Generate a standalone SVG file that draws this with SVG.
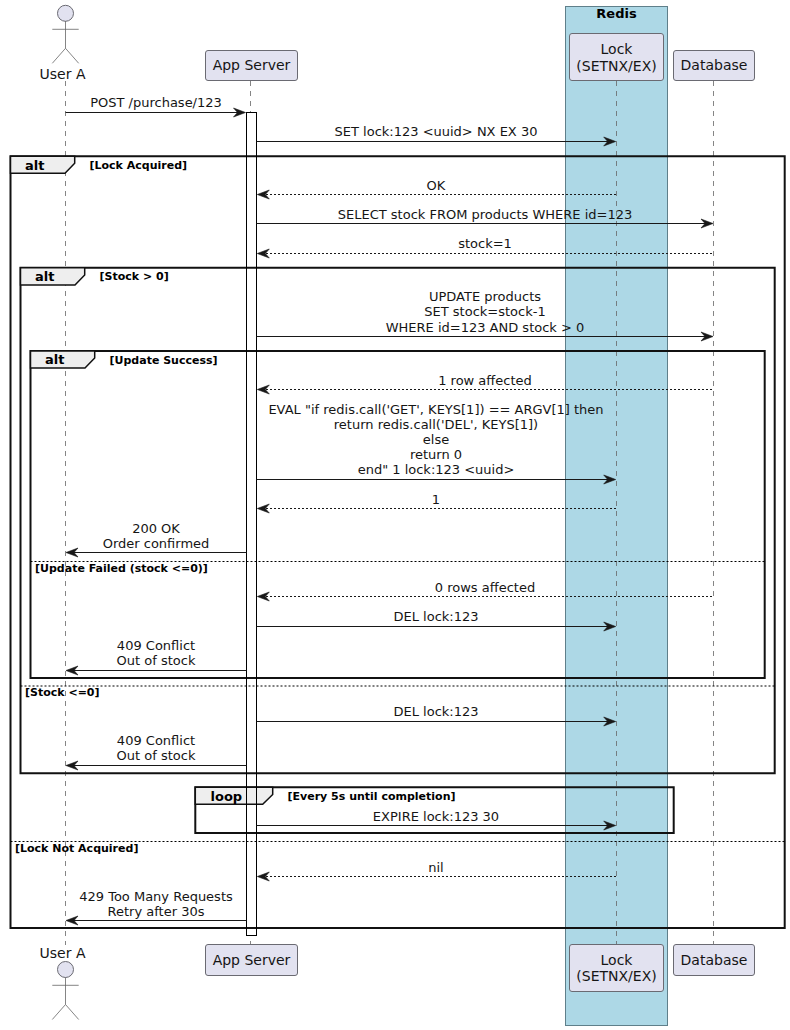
<svg xmlns="http://www.w3.org/2000/svg" width="790" height="1030" viewBox="0 0 790 1030">
<style>
text{font-family:"DejaVu Sans",sans-serif;fill:#151515}
.m{font-size:13px;text-anchor:middle}
.n{font-size:14px;text-anchor:middle}
.g{font-size:11px;font-weight:bold;fill:#000}
.t{font-size:13px;font-weight:bold;fill:#000}
.p{fill:#E2E2F0;stroke:#6a6a72;stroke-width:1}
.l{stroke:#666;stroke-width:.8;stroke-dasharray:5 5;fill:none}
.s{stroke:#181818;stroke-width:1;fill:none}
.d{stroke:#181818;stroke-width:1;stroke-dasharray:2 2;fill:none}
.f{fill:none;stroke:#111;stroke-width:2}
.tb{fill:#EEE;stroke:#111;stroke-width:1.5}
.e{stroke:#000;stroke-width:1;stroke-dasharray:2 2;fill:none}
.h{fill:#181818;stroke:#181818;stroke-width:.6}
.a{fill:none;stroke:#666;stroke-width:.8}
</style>
<defs>
<path id="ar" class="h" d="M0,0l-12,-4.500l4,4.500l-4,4.500z"/>
<path id="al" class="h" d="M0,0l12,-4.500l-4,4.500l4,4.500z"/>
</defs>
<g id="redis"><rect x="565.500" y="6.500" width="102" height="1019" fill="#ADD8E6" stroke="#5f7f8a" stroke-width="1"/><text x="616.500" y="18" text-anchor="middle" style="font-size:13px;font-weight:bold;fill:#000">Redis</text></g>
<g id="lifelines">
<path class="l" d="M65.500,81V945"/><path class="l" d="M250.500,81V945"/><path class="l" d="M616.500,81V945"/><path class="l" d="M713.500,81V945"/>
</g>
<g id="activation-fill"><rect x="246.500" y="112.500" width="10" height="823" fill="#fff"/></g>
<g id="frames">
<path class="f" d="M10.500,156.300H784.700V928H10.500Z"/><path class="tb" d="M10.500,156.300H74.700V163.300L65,173.300H10.500Z"/>
<text class="t" x="25" y="170">alt</text><text class="g" x="89.500" y="169.300">[Lock Acquired]</text>
<path class="f" d="M20.500,267.800H774.700V773.300H20.500Z"/><path class="tb" d="M20.500,267.800H84.700V275L75,285H20.500Z"/>
<text class="t" x="35" y="281">alt</text><text class="g" x="99.500" y="280.300">[Stock &gt; 0]</text>
<path class="f" d="M30.500,351H764.700V678H30.500Z"/><path class="tb" d="M30.500,351H94.700V358L85,368H30.500Z"/>
<text class="t" x="45" y="364">alt</text><text class="g" x="109.500" y="363.700">[Update Success]</text>
<path class="e" d="M30.500,561.500H764.700"/><text class="g" x="35" y="572">[Update Failed (stock &lt;=0)]</text>
<path class="e" d="M20.500,686H774.700"/><text class="g" x="25" y="696">[Stock &lt;=0]</text>
<path class="f" d="M195.300,787.300H673.700V833H195.300Z"/><path class="tb" d="M195.300,787.300H272.700V794.500L262.700,804.300H195.300Z"/>
<text class="t" x="210.500" y="801">loop</text><text class="g" x="287.500" y="800">[Every 5s until completion]</text>
<path class="e" d="M10.500,841.500H784.700"/><text class="g" x="15" y="852">[Lock Not Acquired]</text>
</g>
<g id="activation"><rect x="246.500" y="112.500" width="10" height="823" fill="none" stroke="#000" stroke-width="1"/></g>
<g id="connectors">
<path class="s" d="M65.500,112.500H240"/><use href="#ar" x="245.500" y="112.500"/><text class="m" x="156" y="107">POST /purchase/123</text>
<path class="s" d="M256.500,141.500H610"/><use href="#ar" x="615.700" y="141.500"/><text class="m" x="436" y="136">SET lock:123 &lt;uuid&gt; NX EX 30</text>
<path class="d" d="M262,194.500H616.500"/><use href="#al" x="257.300" y="194.500"/><text class="m" x="436" y="190">OK</text>
<path class="s" d="M256.500,223.500H708"/><use href="#ar" x="713" y="223.500"/><text class="m" x="485" y="219">SELECT stock FROM products WHERE id=123</text>
<path class="d" d="M262,253.500H713.500"/><use href="#al" x="257.300" y="253.500"/><text class="m" x="485" y="248">stock=1</text>
<path class="s" d="M256.500,336.500H708"/><use href="#ar" x="713" y="336.500"/><text class="m" x="485" y="301">UPDATE products</text><text class="m" x="485" y="316">SET stock=stock-1</text><text class="m" x="485" y="331.500">WHERE id=123 AND stock &gt; 0</text>
<path class="d" d="M262,389.500H713.500"/><use href="#al" x="257.300" y="389.500"/><text class="m" x="485" y="385">1 row affected</text>
<path class="s" d="M256.500,479.500H610"/><use href="#ar" x="615.700" y="479.500"/><text class="m" x="436" y="414">EVAL "if redis.call('GET', KEYS[1]) == ARGV[1] then</text><text class="m" x="436" y="429">return redis.call('DEL', KEYS[1])</text><text class="m" x="436" y="444">else</text><text class="m" x="436" y="459">return 0</text><text class="m" x="436" y="474">end" 1 lock:123 &lt;uuid&gt;</text>
<path class="d" d="M262,508.500H616.500"/><use href="#al" x="257.300" y="508.500"/><text class="m" x="436" y="504">1</text>
<path class="s" d="M72,552.500H246.500"/><use href="#al" x="66" y="552.500"/><text class="m" x="156" y="533">200 OK</text><text class="m" x="156" y="548">Order confirmed</text>
<path class="d" d="M262,596.500H713.500"/><use href="#al" x="257.300" y="596.500"/><text class="m" x="485" y="592">0 rows affected</text>
<path class="s" d="M256.500,626.500H610"/><use href="#ar" x="615.700" y="626.500"/><text class="m" x="436" y="621">DEL lock:123</text>
<path class="s" d="M72,670.500H246.500"/><use href="#al" x="66" y="670.500"/><text class="m" x="156" y="650">409 Conflict</text><text class="m" x="156" y="665">Out of stock</text>
<path class="s" d="M256.500,721.500H610"/><use href="#ar" x="615.700" y="721.500"/><text class="m" x="436" y="716">DEL lock:123</text>
<path class="s" d="M72,765.500H246.500"/><use href="#al" x="66" y="765.500"/><text class="m" x="156" y="745">409 Conflict</text><text class="m" x="156" y="760">Out of stock</text>
<path class="s" d="M256.500,825.500H610"/><use href="#ar" x="615.700" y="825.500"/><text class="m" x="436" y="821">EXPIRE lock:123 30</text>
<path class="d" d="M262,876.500H616.500"/><use href="#al" x="257.300" y="876.500"/><text class="m" x="436" y="872">nil</text>
<path class="s" d="M72,920.500H246.500"/><use href="#al" x="66" y="920.500"/><text class="m" x="156" y="901.300">429 Too Many Requests</text><text class="m" x="156" y="916">Retry after 30s</text>
</g>
<g id="user-a-top"><circle class="p" cx="65.500" cy="13.300" r="8"/><path class="a" d="M65.500,21V48.300M52.300,29.300H78.700M65.500,48.300L52.300,63.300M65.500,48.300L78.700,63.300"/><text class="n" x="62.500" y="79">User A</text></g>
<g id="app-top"><rect class="p" x="205.500" y="50.500" width="92" height="30" rx="2.500"/><text class="n" x="251.500" y="70">App Server</text></g>
<g id="lock-top"><rect class="p" x="569.500" y="33.500" width="94" height="47" rx="2.500"/><text class="n" x="616.500" y="54">Lock</text><text class="n" x="616.500" y="70.500">(SETNX/EX)</text></g>
<g id="database-top"><rect class="p" x="673.500" y="50.500" width="81" height="30" rx="2.500"/><text class="n" x="714" y="70">Database</text></g>
<g id="user-a-bottom"><text class="n" x="62.500" y="958">User A</text><circle class="p" cx="65.500" cy="969.500" r="8"/><path class="a" d="M65.500,977.500V1004.500M52.300,985.300H78.700M65.500,1004.500L52.300,1019.500M65.500,1004.500L78.700,1019.500"/></g>
<g id="app-bottom"><rect class="p" x="205.500" y="944.500" width="92" height="31" rx="2.500"/><text class="n" x="251.500" y="965">App Server</text></g>
<g id="lock-bottom"><rect class="p" x="569.500" y="944.500" width="94" height="47" rx="2.500"/><text class="n" x="616.500" y="965">Lock</text><text class="n" x="616.500" y="981">(SETNX/EX)</text></g>
<g id="database-bottom"><rect class="p" x="673.500" y="944.500" width="81" height="31" rx="2.500"/><text class="n" x="714" y="965">Database</text></g>
</svg>
